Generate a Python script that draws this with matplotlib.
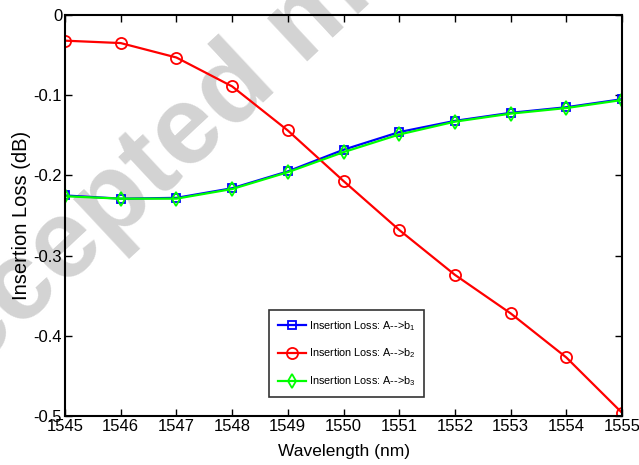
import matplotlib
matplotlib.use("Agg")
import matplotlib.pyplot as plt

plt.rcParams['font.family'] = ['Liberation Sans', 'DejaVu Sans']
plt.rcParams['mathtext.default'] = 'regular'

wavelength = [1545, 1546, 1547, 1548, 1549, 1550, 1551, 1552, 1553, 1554, 1555]
loss_b1 = [-0.225, -0.229, -0.228, -0.216, -0.195, -0.168, -0.146, -0.132, -0.122, -0.115, -0.105]
loss_b2 = [-0.032, -0.035, -0.053, -0.089, -0.144, -0.207, -0.268, -0.324, -0.372, -0.427, -0.496]
loss_b3 = [-0.226, -0.229, -0.229, -0.217, -0.196, -0.171, -0.149, -0.133, -0.123, -0.116, -0.106]
xticks = [1545, 1546, 1547, 1548, 1549, 1550, 1551, 1552, 1553, 1554, 1555]
yticks = [-0.5, -0.4, -0.3, -0.2, -0.1, 0]
ytick_labels = ['-0.5', '-0.4', '-0.3', '-0.2', '-0.1', '0']

fig = plt.figure(figsize=(6.39, 4.65), dpi=100)
ax = fig.add_axes([65 / 639, 1 - 416 / 465, (622 - 65) / 639, (416 - 15) / 465])

# watermark, kept under the lines and labels
ax.text(308 / 639, 1 - 22 / 465, 'Accepted manuscript', rotation=43, fontsize=80,
        fontweight='bold', color='#d3d3d3',
        ha='center', va='center', rotation_mode='anchor', zorder=0.5,
        transform=fig.transFigure, clip_on=False)

ax.plot(wavelength, loss_b1, '-s', color='#0000ff', lw=1.6, ms=6, mfc='none', mew=1.3,
        label='Insertion Loss: A-->b$_1$')
ax.plot(wavelength, loss_b2, '-o', color='#ff0000', lw=1.6, ms=8, mfc='none', mew=1.3,
        label='Insertion Loss: A-->b$_2$')
ax.plot(wavelength, loss_b3, '-d', color='#00ff00', lw=1.6, ms=7, mfc='none', mew=1.3,
        label='Insertion Loss: A-->b$_3$')

ax.set_xlim(1545, 1555)
ax.set_ylim(-0.5, 0)
ax.set_xticks(xticks)
ax.set_yticks(yticks)
ax.set_yticklabels(ytick_labels)
ax.tick_params(direction='in', top=True, right=True, labelsize=12, length=5, width=1, pad=2)
for s in ax.spines.values():
    s.set_linewidth(1.5)

ax.set_xlabel('Wavelength (nm)', fontsize=12.5, labelpad=7)
ax.set_ylabel('Insertion Loss (dB)', fontsize=14.5, labelpad=2)

leg = ax.legend(loc='lower left', bbox_to_anchor=((269 - 65) / 557, (416 - 397) / 401),
                fontsize=7.8, frameon=True, fancybox=False, edgecolor='black',
                handlelength=2.6, handletextpad=0.3, borderaxespad=0,
                labelspacing=1.3, borderpad=0.8)
leg.get_frame().set_linewidth(1.2)
leg.set_zorder(5)

fig.savefig('out.png', dpi=100)
